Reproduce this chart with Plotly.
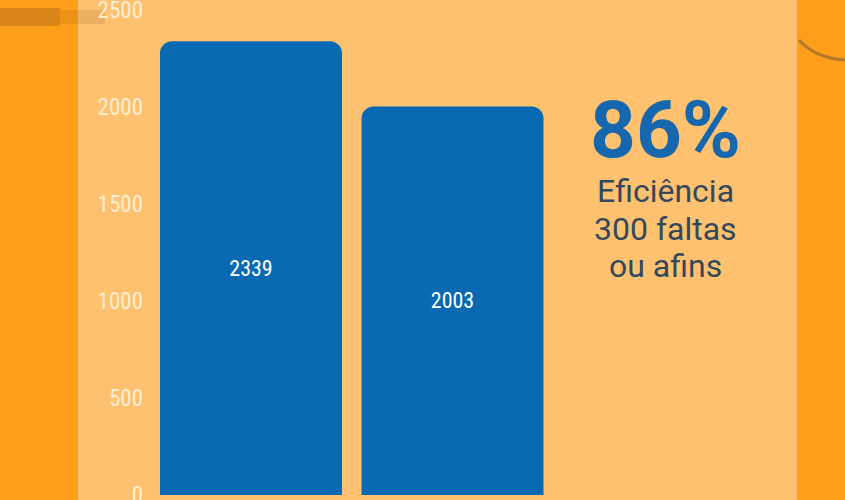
import plotly.graph_objects as go

categories = ["A", "B"]
values = [2339, 2003]
value_labels = ["2339", "2003"]
tick_vals = [0, 500, 1000, 1500, 2000, 2500]
tick_text = ["0", "500", "1000", "1500", "2000", "2500"]

W, H = 845, 500
ORANGE = "#FE9E1B"
PANEL = "#FDC170"
BLUE = "#0A69B3"
NARROW = "Liberation Sans Narrow, Roboto Condensed, Roboto, sans-serif"

# pixel geometry: y=0 at 495px, y=2500 at 10px from top
px_per_unit = (495 - 10) / 2500
y_lo = -5 / px_per_unit
y_hi = 2500 + 10 / px_per_unit

# x geometry: bar centers at 251 and 452.5 px, spacing 201.5 px
x0_px, x1_px = 148, 797
unit = 201.5
x_lo = (x0_px - 251) / unit
x_hi = (x1_px - 251) / unit

fig = go.Figure()
fig.add_trace(go.Bar(
    x=[0, 1], y=values, width=182 / unit,
    marker=dict(color=BLUE, line=dict(width=0)),
    text=value_labels, textposition="inside", insidetextanchor="middle",
    textfont=dict(family=NARROW, size=22, color="#FFFFFF"),
    hoverinfo="skip",
))

fig.update_layout(
    width=W, height=H,
    margin=dict(l=0, r=0, t=0, b=0),
    paper_bgcolor=ORANGE,
    plot_bgcolor="rgba(0,0,0,0)",
    showlegend=False,
    barcornerradius=12,
    xaxis=dict(domain=[x0_px / W, x1_px / W], range=[x_lo, x_hi],
               showgrid=False, zeroline=False, showticklabels=False,
               fixedrange=True),
    yaxis=dict(domain=[0, 1], range=[y_lo, y_hi],
               tickvals=tick_vals, ticktext=tick_text,
               showgrid=False, zeroline=False, ticks="",
               tickfont=dict(family=NARROW, size=23, color="#FFEFD2"),
               ticklabeloverflow="allow",
               automargin=False, ticklabelstandoff=4, fixedrange=True),
    shapes=[
        dict(type="rect", xref="paper", yref="paper", x0=78 / W, x1=797 / W,
             y0=0, y1=1, fillcolor=PANEL, line=dict(width=0), layer="below"),
        dict(type="rect", xref="paper", yref="paper", x0=0, x1=60 / W,
             y0=1 - 26 / H, y1=1 - 8 / H, fillcolor="rgba(140,80,20,0.30)",
             line=dict(width=0), layer="below"),
        dict(type="rect", xref="paper", yref="paper", x0=60 / W, x1=105 / W,
             y0=1 - 24 / H, y1=1 - 10 / H, fillcolor="rgba(140,80,20,0.15)",
             line=dict(width=0), layer="below"),
        dict(type="path", xref="paper", yref="paper",
             path=f"M {799/W} {1-40/H} Q {815/W} {1-58/H} {845/W} {1-60/H}",
             line=dict(color="#B07A2A", width=3)),
    ],
    annotations=[
        dict(xref="paper", yref="paper", x=665 / W, y=1 - 130 / H,
             xanchor="center", yanchor="middle",
             text="<b>86%</b>", showarrow=False,
             font=dict(family="Roboto", size=80, color="#1767AE")),
        dict(xref="paper", yref="paper", x=665 / W, y=1 - 191 / H,
             xanchor="center", yanchor="middle",
             text="Eficiência", showarrow=False,
             font=dict(family="Roboto", size=32, color="#34485C")),
        dict(xref="paper", yref="paper", x=665 / W, y=1 - 229 / H,
             xanchor="center", yanchor="middle",
             text="300 faltas", showarrow=False,
             font=dict(family="Roboto", size=32, color="#34485C")),
        dict(xref="paper", yref="paper", x=665 / W, y=1 - 266 / H,
             xanchor="center", yanchor="middle",
             text="ou afins", showarrow=False,
             font=dict(family="Roboto", size=32, color="#34485C")),
    ],
)

fig.write_html("out.html", config={"displayModeBar": False},
               post_script="document.body.style.margin='0';")
